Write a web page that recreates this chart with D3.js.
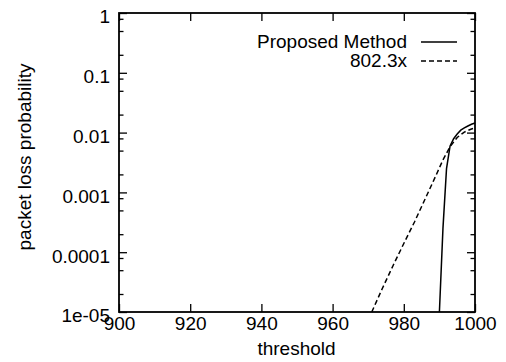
<!DOCTYPE html>
<html>
<head>
<meta charset="UTF-8">
<title>packet loss probability</title>
<script src="https://d3js.org/d3.v7.min.js"></script>
<style>
  body { margin: 0; background: #fff; }
  svg text { font-family: "Liberation Sans", Arial, Helvetica, sans-serif; fill: #000; }
</style>
</head>
<body>
<svg id="svg" width="506" height="362"></svg>
<script>

// data
var xTicks = [900, 920, 940, 960, 980, 1000];
var yTicks = [1, 0.1, 0.01, 0.001, 0.0001, 0.00001];
var yTickLabels = ["1", "0.1", "0.01", "0.001", "0.0001", "1e-05"];
var yMinor = [2, 5, 8];

var seriesNames = ["Proposed Method", "802.3x"];

var proposedX = [990, 991, 992, 993, 994, 995, 996, 997, 998, 999, 1000];
var proposedP = [1e-5, 2.5e-4, 2.5e-3, 6.0e-3, 7.9e-3, 9.5e-3, 0.011, 0.012, 0.0129, 0.0138, 0.0145];

var ieeeX = [971, 974, 977, 980, 983, 986, 989, 991, 993, 995, 997, 999, 1000];
var ieeeP = [1.0e-5, 2.5e-5, 6.0e-5, 1.4e-4, 3.2e-4, 7.8e-4, 1.9e-3, 3.5e-3, 5.8e-3, 8.3e-3, 0.0102, 0.0115, 0.012];

// plot box (window.top is taken, so prefixed names)
var boxLeft = 119, boxRight = 475, boxTop = 13, boxBottom = 312;
var fs = "19px";

var svg = d3.select("svg");

var x = d3.scaleLinear().domain([900, 1000]).range([boxLeft, boxRight]);
var y = d3.scaleLog().domain([1e-5, 1]).range([boxBottom, boxTop]);

// minor tick positions on the log axis
var minorVals = [];
for (var e = -5; e < 0; e++) {
  yMinor.forEach(function(m) { minorVals.push(m * Math.pow(10, e)); });
}

function plain(g) {
  g.select(".domain").remove();
  g.selectAll(".tick line").attr("stroke", "#000").attr("stroke-width", 1.3);
}

// bottom axis with labels
svg.append("g")
  .attr("transform", "translate(0," + boxBottom + ")")
  .call(d3.axisBottom(x).tickValues(xTicks).tickSize(-8).tickPadding(4.5).tickFormat(d3.format("d")))
  .call(plain)
  .selectAll("text").style("font-size", fs).attr("fill", "#000");

// top axis, ticks only
svg.append("g")
  .attr("transform", "translate(0," + boxTop + ")")
  .call(d3.axisTop(x).tickValues(xTicks).tickSize(-8).tickFormat(""))
  .call(plain);

// left axis with labels
svg.append("g")
  .attr("transform", "translate(" + boxLeft + ",0)")
  .call(d3.axisLeft(y).tickValues(yTicks).tickSize(-8).tickPadding(9)
    .tickFormat(function(d, i) { return yTickLabels[i]; }))
  .call(plain)
  .selectAll("text").style("font-size", fs).attr("fill", "#000").attr("dy", "0.52em");

svg.append("g")
  .attr("transform", "translate(" + boxLeft + ",0)")
  .call(d3.axisLeft(y).tickValues(minorVals).tickSize(-4.5).tickFormat(""))
  .call(plain);

// right axis, ticks only
svg.append("g")
  .attr("transform", "translate(" + boxRight + ",0)")
  .call(d3.axisRight(y).tickValues(yTicks).tickSize(-8).tickFormat(""))
  .call(plain);

svg.append("g")
  .attr("transform", "translate(" + boxRight + ",0)")
  .call(d3.axisRight(y).tickValues(minorVals).tickSize(-4.5).tickFormat(""))
  .call(plain);

// frame
svg.append("rect")
  .attr("x", boxLeft).attr("y", boxTop)
  .attr("width", boxRight - boxLeft).attr("height", boxBottom - boxTop)
  .attr("fill", "none").attr("stroke", "#000").attr("stroke-width", 1.8);

// curves
var line = d3.line()
  .x(function(d) { return x(d[0]); })
  .y(function(d) { return y(d[1]); });

svg.append("path")
  .datum(d3.zip(proposedX, proposedP))
  .attr("d", line)
  .attr("fill", "none").attr("stroke", "#000").attr("stroke-width", 1.5);

svg.append("path")
  .datum(d3.zip(ieeeX, ieeeP))
  .attr("d", line)
  .attr("fill", "none").attr("stroke", "#000").attr("stroke-width", 1.5)
  .attr("stroke-dasharray", "5,3");

// legend
var dashes = [null, "5,3"];
for (var i = 0; i < seriesNames.length; i++) {
  var ly = 42 + i * 19;
  svg.append("text")
    .attr("x", 407).attr("y", ly + 6)
    .attr("text-anchor", "end")
    .style("font-size", fs)
    .text(seriesNames[i]);
  svg.append("line")
    .attr("x1", 421).attr("x2", 457)
    .attr("y1", ly).attr("y2", ly)
    .attr("stroke", "#000").attr("stroke-width", 1.3)
    .attr("stroke-dasharray", dashes[i]);
}

// axis titles
svg.append("text")
  .attr("x", (boxLeft + boxRight) / 2 - 0.5).attr("y", 355)
  .attr("text-anchor", "middle")
  .style("font-size", fs)
  .text("threshold");

svg.append("text")
  .attr("transform", "translate(31,157) rotate(-90)")
  .attr("text-anchor", "middle")
  .style("font-size", fs)
  .text("packet loss probability");

</script>
</body>
</html>
